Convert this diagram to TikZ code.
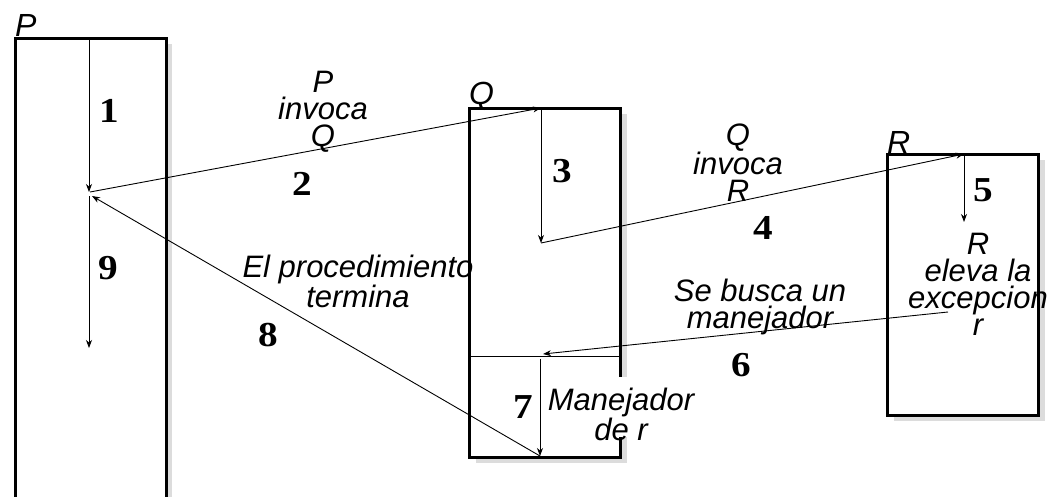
\documentclass[tikz,border=0pt]{standalone}
\usepackage{fontspec}
\setmainfont{Liberation Serif}
\setsansfont{Liberation Sans}
\newfontfamily\stepfont[FakeStretch=1.12]{Liberation Serif}
\usetikzlibrary{arrows.meta}
\definecolor{shadowgrey}{HTML}{DCDCDC}
\tikzset{
  frame/.style={line width=3pt, fill=white},
  boxshadow/.style={fill=shadowgrey},
  flow/.style={line width=0.9pt, -{Stealth[length=8pt,width=6pt,inset=2.5pt]}},
  caption/.style={font=\sffamily\itshape\fontsize{31}{27}\selectfont, align=center, inner sep=0pt},
  stepnum/.style={font=\stepfont\bfseries\fontsize{35}{35}\selectfont, inner sep=0pt},
  procname/.style={font=\sffamily\itshape\fontsize{32}{32}\selectfont, inner sep=0pt, anchor=base west},
}
\begin{document}
\begin{tikzpicture}[x=1pt,y=-1pt]
\useasboundingbox (0,0) rectangle (1051,496);

% procedure P (runs past the lower edge)
\begin{scope}
  \clip (0,0) rectangle (1051,496);
  \fill[boxshadow] (21,44) rectangle (172,520);
  \draw[frame] (15,38) rectangle (166,520);
\end{scope}
% procedure Q
\fill[boxshadow] (476,114) rectangle (627,463);
\draw[frame] (469,108) rectangle (620,457);
\draw[line width=0.9pt] (469,356) coordinate (qdl) -- (620,356) coordinate (qdr);
% procedure R
\fill[boxshadow] (894,160) rectangle (1045,421);
\draw[frame] (887,154) rectangle (1038,415);

% handler caption background
\fill[white] (546,377) rectangle (702,437);

% procedure names
\node[procname] (pname) at (15,36) {P};
\node[procname] (qname) at (469,104) {Q};
\node[procname] (rname) at (887,153) {R};

% control points
\coordinate (p1) at (89,38);
\coordinate (p1end) at (89,192);
\coordinate (p2start) at (90,192);
\coordinate (p8end) at (92,196);
\coordinate (p9start) at (89,196);
\coordinate (p9end) at (89,348);
\coordinate (q3top) at (541,108);
\coordinate (q3end) at (541,243);
\coordinate (r5top) at (964,154);
\coordinate (r5end) at (964,222);
\coordinate (r6start) at (948,312);
\coordinate (q6end) at (543,354);
\coordinate (q7top) at (540,359);
\coordinate (q7end) at (540,456);

% flow of control
\draw[flow] (p1) -- (p1end);
\draw[flow] (p2start) -- (q3top);
\draw[flow] (q3top) -- (q3end);
\draw[flow] (q3end) -- (r5top);
\draw[flow] (r5top) -- (r5end);
\draw[flow] (r6start) -- (q6end);
\draw[flow] (q7top) -- (q7end);
\draw[flow] (q7end) -- (p8end);
\draw[flow] (p9start) -- (p9end);

% step numbers
\node[stepnum] (n1) at (109,111) {1};
\node[stepnum] (n2) at (302,184) {2};
\node[stepnum] (n3) at (562,171) {3};
\node[stepnum] (n4) at (763,228) {4};
\node[stepnum] (n5) at (983,190) {5};
\node[stepnum] (n6) at (741,365) {6};
\node[stepnum] (n7) at (523,407) {7};
\node[stepnum] (n8) at (268,335) {8};
\node[stepnum] (n9) at (108,268) {9};

% captions
\node[caption] (c2) at (323,112) {P\\invoca\\Q};
\node[caption] (c4) at (738,163) {Q\\invoca\\R};
\node[caption] (c5) at (978,284) {R\\eleva la\\excepcion\\r};
\node[caption] (c6) at (760,307) {Se busca un\\manejador};
\node[caption] (c7) at (621,414) {Manejador\\de r};
\node[caption] (c8) at (358,281) {El procedimiento\\termina};
\end{tikzpicture}
\end{document}
